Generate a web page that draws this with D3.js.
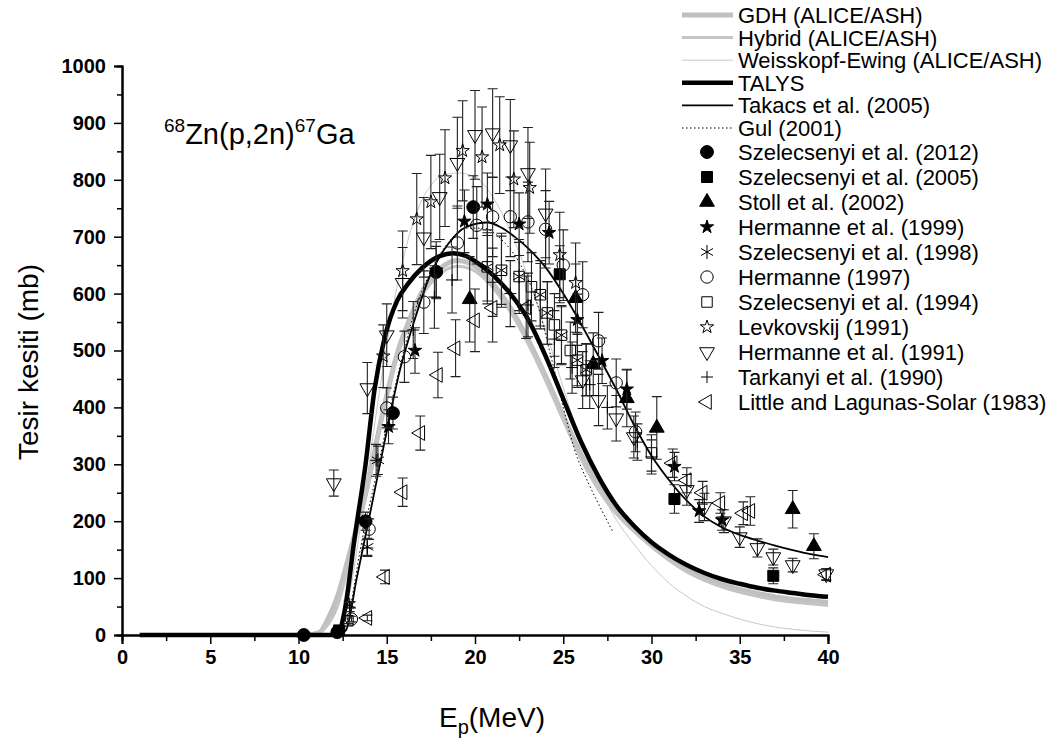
<!DOCTYPE html>
<html>
<head>
<meta charset="utf-8">
<script src="https://cdn.jsdelivr.net/npm/d3@7"></script>
<style>
  body { margin: 0; background: #fff; }
  svg { display: block; font-family: "Liberation Sans", Arial, sans-serif; }
  .tick text { font-weight: bold; }
</style>
</head>
<body>
<svg id="chart" width="1051" height="742"></svg>
<script>
// ---- tick labels ----
const xTicks = [0, 5, 10, 15, 20, 25, 30, 35, 40];
const yTicks = [0, 100, 200, 300, 400, 500, 600, 700, 800, 900, 1000];

// ---- model curves: [E (MeV), sigma (mb)] ----
const gdh = [[10.5,0],[11.2,5],[11.7,30],[12.2,67],[12.9,144],[13.9,262],[14.7,380],[15.6,495],[16.3,555],[17,603],[18,643],[19,658],[19.8,652],[20.5,635],[21.2,610],[22,575],[23,520],[24,455],[25,385],[26,318],[27,262],[28,220],[29,190],[30,162],[31,137],[32,117],[33,101],[34,89],[35,80],[36,73],[37,67],[38,63],[39,60],[40,57]];
const hybrid = [[10.8,0],[11.5,12],[12.2,50],[12.9,130],[13.9,255],[14.7,375],[15.6,490],[16.3,548],[17,596],[18,634],[19,648],[19.8,643],[20.5,627],[21.2,603],[22,568],[23,512],[24,447],[25,377],[26,310],[27,255],[28,213],[29,182],[30,155],[31,131],[32,111],[33,96],[34,84],[35,75],[36,68],[37,62],[38,58],[39,55],[40,52]];
const weisskopf = [[12.4,0],[13,90],[13.5,190],[14,300],[14.5,410],[15,510],[15.5,600],[16,670],[16.5,725],[17,765],[17.5,790],[18,805],[19,812],[20,805],[21,770],[22,710],[23,630],[24,535],[25,435],[26,340],[27,262],[28,203],[29,160],[30,122],[31,91],[32,68],[33,50],[34,38],[35,28],[36,20],[37,14],[38,10],[39,7],[40,5]];
const talys = [[1,0],[12.2,0],[12.6,40],[13.2,175],[13.8,300],[14.3,430],[14.9,525],[15.6,588],[16.2,617],[17,645],[18,666],[18.75,671],[19.5,666],[20,657],[21,633],[22,600],[23,555],[24,490],[25,415],[26,340],[27,278],[28,228],[29,192],[30,163],[31,141],[32,123],[33,109],[34,98],[35,90],[36,83],[37,78],[38,74],[39,70],[40,67]];
const takacs = [[12.3,0],[12.7,9],[13.3,100],[13.9,190],[14.9,343],[15.75,466],[16.6,556],[17.4,628],[18.5,688],[19.5,717],[20.7,725],[21.5,716],[22.2,701],[23,680],[24,646],[25,600],[26,547],[27,490],[28,432],[29,370],[30,315],[31,272],[32,236],[33,208],[34,189],[35,176],[36,166],[37,157],[38,149],[39,142],[40,137]];
const gul = [[12.5,0],[12.9,44],[13.5,150],[14.5,295],[15.5,440],[16.5,560],[17.5,640],[18.5,690],[19.5,715],[20.5,715],[21.5,695],[22.5,655],[23.5,585],[24.3,490],[25,400],[25.6,330],[26.5,262],[27.2,218],[27.8,182]];

// ---- experimental data: [E (MeV), sigma (mb), error (mb)] ----
const szel2012 = [[10.3,0,0],[12.2,5,3],[13.8,200,16],[15.35,390,28],[17.8,638,45],[19.9,752,55]];
const szel2005 = [[12.3,8,3],[24.8,634,50],[31.3,239,25],[36.9,104,14]];
const stoll2002 = [[19.7,590,75],[25.7,592,60],[26.7,476,55],[28.6,416,50],[30.3,364,55],[38.0,221,33],[39.2,156,22]];
const herm1999 = [[15.1,366,30],[16.6,500,40],[17.8,641,50],[19.4,727,55],[20.7,757,55],[22.5,722,55],[24.2,707,55],[25.8,554,45],[27.2,482,40],[28.6,432,35],[31.3,296,25],[32.7,218,20],[34.0,202,18]];
const szel1998 = [[12.9,53,6],[13.9,155,15],[14.5,307,25],[20.7,647,60],[21.5,641,60],[22.5,630,60],[23.7,598,55],[24.1,566,55],[24.9,527,50],[25.8,483,45],[26.3,466,45]];
const herm1997 = [[13.0,28,5],[14.0,186,18],[15.0,399,35],[16.0,489,45],[17.1,585,55],[19.0,689,65],[20.1,720,68],[21.0,735,70],[22.0,735,70],[23.0,726,70],[24.0,713,68],[25.0,650,62],[26.1,598,58],[27.0,517,50],[28.0,443,42],[29.1,357,35]];
const szel1994 = [[12.8,25,5],[20.7,647,65],[21.5,641,65],[22.5,630,65],[23.2,612,60],[23.7,598,60],[24.1,566,55],[24.5,545,55],[24.9,527,52],[25.4,500,50],[25.8,483,48],[26.3,466,46],[30.0,320,32]];
const levk1991 = [[14.8,490,55],[15.9,640,70],[16.7,731,80],[17.5,761,82],[18.3,803,85],[19.3,851,88],[20.4,840,88],[21.4,861,85],[22.2,801,85],[23.1,786,80],[24.8,668,75],[25.7,619,70]];
const herm1991 = [[12.0,267,23],[13.9,434,45],[15.0,527,55],[15.9,619,62],[17.1,699,70],[18.0,770,75],[19.0,830,80],[20.0,879,78],[21.0,882,78],[22.0,861,80],[23.0,812,80],[24.0,741,78],[26.1,448,50],[27.0,413,45],[28.0,381,40],[29.0,348,37],[32.0,255,27],[33.0,225,24],[34.1,200,20],[35.0,172,18],[36.0,153,16],[36.9,137,14],[38.0,123,12],[39.9,107,10]];
const tark1990 = [[12.9,49,8],[13.9,153,15],[14.4,307,28],[16.5,536,50],[17.7,594,55],[18.7,624,58],[21.0,620,60],[22.0,600,58],[23.0,580,56],[24.5,520,50],[25.5,470,45],[26.5,440,42],[27.5,400,38],[29.2,339,32],[30.0,313,30]];
const little1983 = [[13.9,30,5],[14.9,102,12],[15.9,251,25],[16.9,355,30],[17.9,457,40],[18.9,504,50],[20.0,553,55],[21.0,575,60],[22.9,576,55],[31.2,302,25],[32.0,272,22],[32.9,250,20],[33.9,232,18],[35.2,214,20],[35.6,218,25],[39.9,106,10]];

const curveNames = ['GDH (ALICE/ASH)', 'Hybrid (ALICE/ASH)', 'Weisskopf-Ewing (ALICE/ASH)', 'TALYS', 'Takacs et al. (2005)', 'Gul (2001)'];
const dataNames = ['Szelecsenyi et al. (2012)', 'Szelecsenyi et al. (2005)', 'Stoll et al. (2002)', 'Hermanne et al. (1999)', 'Szelecsenyi et al. (1998)', 'Hermanne (1997)', 'Szelecsenyi et al. (1994)', 'Levkovskij (1991)', 'Hermanne et al. (1991)', 'Tarkanyi et al. (1990)', 'Little and Lagunas-Solar (1983)'];

// ============================================================
const svg = d3.select('#chart');
const x = d3.scaleLinear().domain([0, 40]).range([122, 828]);
const y = d3.scaleLinear().domain([0, 1000]).range([635, 66]);

const curves = [
  { data: gdh, color: '#c0c0c0', width: 5 },
  { data: hybrid, color: '#c4c4c4', width: 3 },
  { data: weisskopf, color: '#c8c8c8', width: 1 },
  { data: talys, color: '#000', width: 4.5 },
  { data: takacs, color: '#000', width: 1.8 },
  { data: gul, color: '#000', width: 1, dash: '1.5,2.5' },
];

const line = d3.line().x(d => x(d[0])).y(d => y(d[1])).curve(d3.curveMonotoneX);

// symbol shapes
const plusPath = 'M-6,0H6M0,-6V6';
const asteriskPath = 'M0,-7V7M-6,-3.5L6,3.5M-6,3.5L6,-3.5';
const sets = [
  { data: szel2012, path: d3.symbol(d3.symbolCircle, 130)(), fill: '#000' },
  { data: szel2005, path: d3.symbol(d3.symbolSquare, 121)(), fill: '#000' },
  { data: stoll2002, path: d3.symbol(d3.symbolTriangle, 95)(), fill: '#000' },
  { data: herm1999, path: d3.symbol(d3.symbolStar, 55)(), fill: '#000' },
  { data: szel1998, path: asteriskPath, fill: 'none' },
  { data: herm1997, path: d3.symbol(d3.symbolCircle, 120)(), fill: 'none' },
  { data: szel1994, path: d3.symbol(d3.symbolSquare, 110)(), fill: 'none' },
  { data: levk1991, path: d3.symbol(d3.symbolStar, 55)(), fill: 'none' },
  { data: herm1991, path: d3.symbol(d3.symbolTriangle, 95)(), fill: 'none', rot: 180 },
  { data: tark1990, path: plusPath, fill: 'none' },
  { data: little1983, path: d3.symbol(d3.symbolTriangle, 95)(), fill: 'none', rot: -90 },
];

// curves
const gCurves = svg.append('g');
curves.forEach(c => {
  gCurves.append('path')
    .attr('d', line(c.data))
    .attr('fill', 'none')
    .attr('stroke', c.color)
    .attr('stroke-width', c.width)
    .attr('stroke-dasharray', c.dash || null);
});

// data points with error bars
sets.forEach(s => {
  const g = svg.append('g');
  const pts = g.selectAll('g.pt').data(s.data).enter().append('g')
    .attr('class', 'pt')
    .attr('transform', d => `translate(${x(d[0])},${y(d[1])})`);
  pts.filter(d => d[2] > 0).append('path')
    .attr('d', d => {
      const up = y(d[1] + d[2]) - y(d[1]);
      const dn = y(Math.max(0, d[1] - d[2])) - y(d[1]);
      return `M0,${up}V${dn}M-5,${up}H5M-5,${dn}H5`;
    })
    .attr('stroke', '#222').attr('stroke-width', 1.1).attr('fill', 'none');
  pts.append('path')
    .attr('d', s.path)
    .attr('transform', s.rot ? `rotate(${s.rot})` : null)
    .attr('fill', s.fill)
    .attr('stroke', '#000')
    .attr('stroke-width', 1);
});

// axes
svg.append('g').attr('transform', 'translate(0,635)')
  .call(d3.axisBottom(x).tickValues(xTicks).tickSize(9).tickPadding(6).tickFormat(d3.format('d')));
svg.append('g').attr('transform', 'translate(0,635)')
  .call(d3.axisBottom(x).tickValues(xTicks.slice(1).map(v => v - 2.5)).tickSize(6).tickFormat(''));
svg.append('g').attr('transform', 'translate(122,0)')
  .call(d3.axisLeft(y).tickValues(yTicks).tickSize(8).tickPadding(8).tickFormat(d3.format('d')));
svg.append('g').attr('transform', 'translate(122,0)')
  .call(d3.axisLeft(y).tickValues(yTicks.slice(1).map(v => v - 50)).tickSize(5).tickFormat(''));
svg.selectAll('.domain').attr('stroke-width', 2).attr('stroke', '#000');
svg.selectAll('.tick line').attr('stroke-width', 1.5).attr('stroke', '#000');
svg.selectAll('.tick text').attr('font-size', 20).attr('fill', '#000');

// axis titles
svg.append('text').attr('transform', 'translate(38,362) rotate(-90)')
  .attr('text-anchor', 'middle').attr('font-size', 28).text('Tesir kesiti (mb)');
const xt = svg.append('text').attr('x', 492).attr('y', 727).attr('text-anchor', 'middle').attr('font-size', 28);
xt.append('tspan').text('E');
xt.append('tspan').attr('font-size', 20).attr('dy', 7).text('p');
xt.append('tspan').attr('dy', -7).text('(MeV)');

// reaction label
const rl = svg.append('text').attr('x', 164).attr('y', 144).attr('font-size', 29);
rl.append('tspan').attr('font-size', 19).attr('dy', -12).text('68');
rl.append('tspan').attr('dy', 12).text('Zn(p,2n)');
rl.append('tspan').attr('font-size', 19).attr('dy', -12).text('67');
rl.append('tspan').attr('dy', 12).text('Ga');

// legend
const lg = svg.append('g').attr('font-size', 22);
curveNames.forEach((name, i) => {
  const cy = 15 + i * 22.6;
  const c = curves[i];
  lg.append('line').attr('x1', 682).attr('x2', 733).attr('y1', cy).attr('y2', cy)
    .attr('stroke', c.color).attr('stroke-width', c.width).attr('stroke-dasharray', c.dash || null);
  lg.append('text').attr('x', 738).attr('y', cy + 8).text(name);
});
dataNames.forEach((name, i) => {
  const cy = 152 + i * 25;
  const s = sets[i];
  lg.append('path').attr('d', s.path)
    .attr('transform', `translate(707,${cy})` + (s.rot ? ` rotate(${s.rot})` : ''))
    .attr('fill', s.fill).attr('stroke', '#000').attr('stroke-width', 1);
  lg.append('text').attr('x', 738).attr('y', cy + 8).text(name);
});
</script>
</body>
</html>
